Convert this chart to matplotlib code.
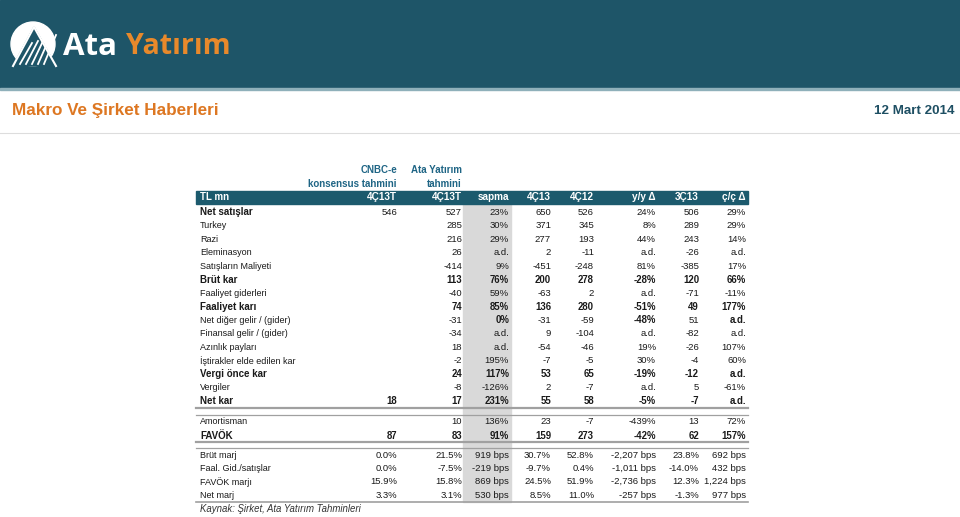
import matplotlib
matplotlib.use("Agg")
import matplotlib.pyplot as plt
from matplotlib.patches import Rectangle, Circle, Polygon

plt.rcParams['font.family'] = ['Liberation Sans', 'DejaVu Sans']

# table data
col_heads = ['TL mn', '4Ç13T', '4Ç13T', 'sapma', '4Ç13', '4Ç12', 'y/y Δ', '3Ç13', 'ç/ç Δ']
row_labels = ['Net satışlar', 'Turkey', 'Razi', 'Eleminasyon', 'Satışların Maliyeti',
              'Brüt kar', 'Faaliyet giderleri', 'Faaliyet karı', 'Net diğer gelir / (gider)',
              'Finansal gelir / (gider)', 'Azınlık payları', 'İştirakler elde edilen kar',
              'Vergi önce kar', 'Vergiler', 'Net kar', 'Amortisman', 'FAVÖK',
              'Brüt marj', 'Faal. Gid./satışlar', 'FAVÖK marjı', 'Net marj']
cnbc = ['546', '', '', '', '', '', '', '', '', '', '', '', '', '', '18', '', '87',
        '0.0%', '0.0%', '15.9%', '3.3%']
ata = ['527', '285', '216', '26', '-414', '113', '-40', '74', '-31', '-34', '18', '-2',
       '24', '-8', '17', '10', '83', '21.5%', '-7.5%', '15.8%', '3.1%']
sapma = ['23%', '30%', '29%', 'a.d.', '9%', '76%', '59%', '85%', '0%', 'a.d.', 'a.d.',
         '195%', '117%', '-126%', '231%', '136%', '91%',
         '919 bps', '-219 bps', '869 bps', '530 bps']
q4_13 = ['650', '371', '277', '2', '-451', '200', '-63', '136', '-31', '9', '-54', '-7',
         '53', '2', '55', '23', '159', '30.7%', '-9.7%', '24.5%', '8.5%']
q4_12 = ['526', '345', '193', '-11', '-248', '278', '2', '280', '-59', '-104', '-46', '-5',
         '65', '-7', '58', '-7', '273', '52.8%', '0.4%', '51.9%', '11.0%']
yy = ['24%', '8%', '44%', 'a.d.', '81%', '-28%', 'a.d.', '-51%', '-48%', 'a.d.', '19%',
      '30%', '-19%', 'a.d.', '-5%', '-439%', '-42%',
      '-2,207 bps', '-1,011 bps', '-2,736 bps', '-257 bps']
q3_13 = ['506', '289', '243', '-26', '-385', '120', '-71', '49', '51', '-82', '-26', '-4',
         '-12', '5', '-7', '13', '62', '23.8%', '-14.0%', '12.3%', '-1.3%']
cc = ['29%', '29%', '14%', 'a.d.', '17%', '66%', '-11%', '177%', 'a.d.', 'a.d.', '107%',
      '60%', 'a.d.', '-61%', 'a.d.', '72%', '157%',
      '692 bps', '432 bps', '1,224 bps', '977 bps']
bold_rows = [5, 7, 12, 14, 16]
bold_label_only = [0]
bold_cells = {8: [2, 5, 7]}  # Net diğer gelir row: some bold cells

columns = [cnbc, ata, sapma, q4_13, q4_12, yy, q3_13, cc]
col_right = [397, 462, 509, 551, 594, 656, 699, 746]

teal = '#1e5568'
band = '#1c5a6d'
orange = '#e8892b'
txt = '#1a1a1a'

fig = plt.figure(figsize=(9.6, 5.17), dpi=100)
ax = fig.add_axes([0, 0, 1, 1])
ax.set_xlim(0, 960)
ax.set_ylim(517, 0)
ax.axis('off')

# top banner
ax.add_patch(Rectangle((0, 0), 960, 88, color=teal, zorder=1))
ax.add_patch(Rectangle((0, 88), 960, 2, color='#8fb0ba', zorder=1))
ax.add_patch(Circle((33, 44), 22, color='white', zorder=2))
ax.add_patch(Polygon([(13, 66), (34, 27), (56, 66)], closed=True, color=teal, zorder=3))
for k in range(5):
    x0 = 20 + k * 6
    ax.plot([x0, x0 + 12], [64, 43 - k * 2], color='white', lw=1.3, zorder=4)
ax.plot([13, 34, 56], [66, 27, 66], color='white', lw=1.5, zorder=4)
ax.text(63, 47, 'Ata', fontsize=22.5, fontweight='bold', color='white',
        family=['Open Sans', 'DejaVu Sans'], va='center', ha='left', zorder=5)
ax.text(126, 47, 'Yatırım', fontsize=20.5, fontweight='bold', color=orange,
        family=['Open Sans', 'DejaVu Sans'], va='center', ha='left', zorder=5)

# page title
ax.text(12, 111, 'Makro Ve Şirket Haberleri', fontsize=12.3, fontweight='bold',
        color='#dd7722', va='center', ha='left')
ax.text(954, 111, '12 Mart 2014', fontsize=9.6, fontweight='bold',
        color='#1e4f63', va='center', ha='right')
ax.plot([0, 960], [133, 133], color='#dddddd', lw=0.8)

# column group headers
hdr_col = '#1f6585'
ax.text(397, 170, 'CNBC-e', fontsize=7, fontweight='bold', color=hdr_col, ha='right', va='center')
ax.text(397, 184, 'konsensus tahmini', fontsize=7, fontweight='bold', color=hdr_col, ha='right', va='center')
ax.text(462, 170, 'Ata Yatırım', fontsize=7, fontweight='bold', color=hdr_col, ha='right', va='center')
ax.text(462, 184, 'tahmini', fontsize=7, fontweight='bold', color=hdr_col, ha='right', va='center')

# header band
ax.add_patch(Rectangle((196, 191), 552, 13, color=band, zorder=1))
ax.text(200, 197.5, col_heads[0], fontsize=7, fontweight='bold', color='white', va='center', ha='left', zorder=2)
for head, xr in zip(col_heads[1:], col_right):
    ax.text(xr, 197.5, head, fontsize=7.2, fontweight='bold', color='white', va='center', ha='right', zorder=2)

# shaded deviation column
ax.add_patch(Rectangle((463, 204), 48, 298, color='#d9d9d9', zorder=0))

# row positions
row_y = [212.3 + 13.5 * i for i in range(15)] + [422, 435.7] + [455.5 + 13.2 * j for j in range(4)]

for i, label in enumerate(row_labels):
    y = row_y[i]
    lb = i in bold_rows or i in bold_label_only
    ax.text(200, y, label, fontsize=7 if lb else 6.5, fontweight='bold' if lb else 'normal',
            color=txt, va='center', ha='left')
    for c, (col, xr) in enumerate(zip(columns, col_right)):
        b = i in bold_rows or c in bold_cells.get(i, [])
        ax.text(xr, y, col[i], fontsize=6.9 if b else 6.8, fontweight='bold' if b else 'normal',
                color=txt, va='center', ha='right')

# separator lines
for yl, lw in [(408.3, 1.6), (415, 0.9), (442.3, 1.6), (447.7, 0.9), (501.7, 1.2)]:
    ax.plot([196, 748], [yl, yl], color='#a0a0a0', lw=lw, zorder=3)

ax.text(200, 508.5, 'Kaynak: Şirket, Ata Yatırım Tahminleri', fontsize=6.9, style='italic',
        color='#333333', va='center', ha='left')

fig.savefig('out.png', dpi=100)
